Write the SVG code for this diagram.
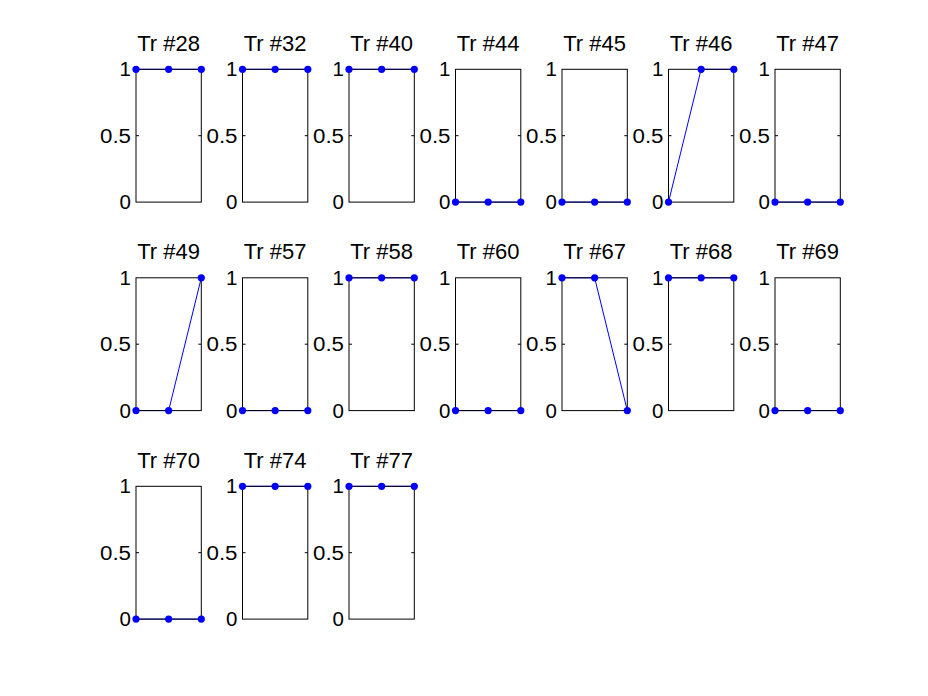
<svg xmlns="http://www.w3.org/2000/svg" xmlns:xlink="http://www.w3.org/1999/xlink" width="928" height="696" viewBox="0 0 928 696">
<style>
.bg{fill:#fff}
.box{fill:none;stroke:#000;stroke-width:1}
.tk{stroke:#000;stroke-width:1}
.ln{fill:none;stroke:#0000ff;stroke-width:1}
.dot{fill:#0000ff}
.yl{font-family:"Liberation Sans",Arial,sans-serif;font-size:20.5px;fill:#000;text-anchor:end}
.ti{font-family:"Liberation Sans",Arial,sans-serif;font-size:22px;fill:#000;text-anchor:middle}
</style>
<defs>
<g id="frame">
<rect class="box" x="0" y="0" width="65.3" height="132.8"/>
<line class="tk" x1="0" y1="66.4" x2="3" y2="66.4"/>
<line class="tk" x1="65.3" y1="66.4" x2="62.3" y2="66.4"/>
</g>
<g id="top3"><circle class="dot" cx="0" cy="0" r="3.6"/><circle class="dot" cx="32.65" cy="0" r="3.6"/><circle class="dot" cx="65.3" cy="0" r="3.6"/></g>
<g id="bot3"><circle class="dot" cx="0" cy="132.8" r="3.6"/><circle class="dot" cx="32.65" cy="132.8" r="3.6"/><circle class="dot" cx="65.3" cy="132.8" r="3.6"/></g>
</defs>
<rect class="bg" x="0" y="0" width="928" height="696"/>

<!-- Row 1 -->
<g id="tr28" transform="translate(136,69.3)">
<polyline class="ln" points="0,0 32.65,0 65.3,0"/>
<use xlink:href="#frame"/><use xlink:href="#top3"/>
<text class="ti" x="32.65" y="-18.6">Tr #28</text>
<text class="yl" x="-5" y="7">1</text><text class="yl" x="-5" y="73.5" textLength="31" lengthAdjust="spacingAndGlyphs">0.5</text><text class="yl" x="-5" y="140">0</text>
</g>
<g id="tr32" transform="translate(242.5,69.3)">
<polyline class="ln" points="0,0 32.65,0 65.3,0"/>
<use xlink:href="#frame"/><use xlink:href="#top3"/>
<text class="ti" x="32.65" y="-18.6">Tr #32</text>
<text class="yl" x="-5" y="7">1</text><text class="yl" x="-5" y="73.5" textLength="31" lengthAdjust="spacingAndGlyphs">0.5</text><text class="yl" x="-5" y="140">0</text>
</g>
<g id="tr40" transform="translate(349,69.3)">
<polyline class="ln" points="0,0 32.65,0 65.3,0"/>
<use xlink:href="#frame"/><use xlink:href="#top3"/>
<text class="ti" x="32.65" y="-18.6">Tr #40</text>
<text class="yl" x="-5" y="7">1</text><text class="yl" x="-5" y="73.5" textLength="31" lengthAdjust="spacingAndGlyphs">0.5</text><text class="yl" x="-5" y="140">0</text>
</g>
<g id="tr44" transform="translate(455.5,69.3)">
<polyline class="ln" points="0,132.8 32.65,132.8 65.3,132.8"/>
<use xlink:href="#frame"/><use xlink:href="#bot3"/>
<text class="ti" x="32.65" y="-18.6">Tr #44</text>
<text class="yl" x="-5" y="7">1</text><text class="yl" x="-5" y="73.5" textLength="31" lengthAdjust="spacingAndGlyphs">0.5</text><text class="yl" x="-5" y="140">0</text>
</g>
<g id="tr45" transform="translate(562,69.3)">
<polyline class="ln" points="0,132.8 32.65,132.8 65.3,132.8"/>
<use xlink:href="#frame"/><use xlink:href="#bot3"/>
<text class="ti" x="32.65" y="-18.6">Tr #45</text>
<text class="yl" x="-5" y="7">1</text><text class="yl" x="-5" y="73.5" textLength="31" lengthAdjust="spacingAndGlyphs">0.5</text><text class="yl" x="-5" y="140">0</text>
</g>
<g id="tr46" transform="translate(668.5,69.3)">
<polyline class="ln" points="0,132.8 32.65,0 65.3,0"/>
<use xlink:href="#frame"/>
<circle class="dot" cx="0" cy="132.8" r="3.6"/><circle class="dot" cx="32.65" cy="0" r="3.6"/><circle class="dot" cx="65.3" cy="0" r="3.6"/>
<text class="ti" x="32.65" y="-18.6">Tr #46</text>
<text class="yl" x="-5" y="7">1</text><text class="yl" x="-5" y="73.5" textLength="31" lengthAdjust="spacingAndGlyphs">0.5</text><text class="yl" x="-5" y="140">0</text>
</g>
<g id="tr47" transform="translate(775,69.3)">
<polyline class="ln" points="0,132.8 32.65,132.8 65.3,132.8"/>
<use xlink:href="#frame"/><use xlink:href="#bot3"/>
<text class="ti" x="32.65" y="-18.6">Tr #47</text>
<text class="yl" x="-5" y="7">1</text><text class="yl" x="-5" y="73.5" textLength="31" lengthAdjust="spacingAndGlyphs">0.5</text><text class="yl" x="-5" y="140">0</text>
</g>

<!-- Row 2 -->
<g id="tr49" transform="translate(136,277.8)">
<polyline class="ln" points="0,132.8 32.65,132.8 65.3,0"/>
<use xlink:href="#frame"/>
<circle class="dot" cx="0" cy="132.8" r="3.6"/><circle class="dot" cx="32.65" cy="132.8" r="3.6"/><circle class="dot" cx="65.3" cy="0" r="3.6"/>
<text class="ti" x="32.65" y="-18.6">Tr #49</text>
<text class="yl" x="-5" y="7">1</text><text class="yl" x="-5" y="73.5" textLength="31" lengthAdjust="spacingAndGlyphs">0.5</text><text class="yl" x="-5" y="140">0</text>
</g>
<g id="tr57" transform="translate(242.5,277.8)">
<polyline class="ln" points="0,132.8 32.65,132.8 65.3,132.8"/>
<use xlink:href="#frame"/><use xlink:href="#bot3"/>
<text class="ti" x="32.65" y="-18.6">Tr #57</text>
<text class="yl" x="-5" y="7">1</text><text class="yl" x="-5" y="73.5" textLength="31" lengthAdjust="spacingAndGlyphs">0.5</text><text class="yl" x="-5" y="140">0</text>
</g>
<g id="tr58" transform="translate(349,277.8)">
<polyline class="ln" points="0,0 32.65,0 65.3,0"/>
<use xlink:href="#frame"/><use xlink:href="#top3"/>
<text class="ti" x="32.65" y="-18.6">Tr #58</text>
<text class="yl" x="-5" y="7">1</text><text class="yl" x="-5" y="73.5" textLength="31" lengthAdjust="spacingAndGlyphs">0.5</text><text class="yl" x="-5" y="140">0</text>
</g>
<g id="tr60" transform="translate(455.5,277.8)">
<polyline class="ln" points="0,132.8 32.65,132.8 65.3,132.8"/>
<use xlink:href="#frame"/><use xlink:href="#bot3"/>
<text class="ti" x="32.65" y="-18.6">Tr #60</text>
<text class="yl" x="-5" y="7">1</text><text class="yl" x="-5" y="73.5" textLength="31" lengthAdjust="spacingAndGlyphs">0.5</text><text class="yl" x="-5" y="140">0</text>
</g>
<g id="tr67" transform="translate(562,277.8)">
<polyline class="ln" points="0,0 32.65,0 65.3,132.8"/>
<use xlink:href="#frame"/>
<circle class="dot" cx="0" cy="0" r="3.6"/><circle class="dot" cx="32.65" cy="0" r="3.6"/><circle class="dot" cx="65.3" cy="132.8" r="3.6"/>
<text class="ti" x="32.65" y="-18.6">Tr #67</text>
<text class="yl" x="-5" y="7">1</text><text class="yl" x="-5" y="73.5" textLength="31" lengthAdjust="spacingAndGlyphs">0.5</text><text class="yl" x="-5" y="140">0</text>
</g>
<g id="tr68" transform="translate(668.5,277.8)">
<polyline class="ln" points="0,0 32.65,0 65.3,0"/>
<use xlink:href="#frame"/><use xlink:href="#top3"/>
<text class="ti" x="32.65" y="-18.6">Tr #68</text>
<text class="yl" x="-5" y="7">1</text><text class="yl" x="-5" y="73.5" textLength="31" lengthAdjust="spacingAndGlyphs">0.5</text><text class="yl" x="-5" y="140">0</text>
</g>
<g id="tr69" transform="translate(775,277.8)">
<polyline class="ln" points="0,132.8 32.65,132.8 65.3,132.8"/>
<use xlink:href="#frame"/><use xlink:href="#bot3"/>
<text class="ti" x="32.65" y="-18.6">Tr #69</text>
<text class="yl" x="-5" y="7">1</text><text class="yl" x="-5" y="73.5" textLength="31" lengthAdjust="spacingAndGlyphs">0.5</text><text class="yl" x="-5" y="140">0</text>
</g>

<!-- Row 3 -->
<g id="tr70" transform="translate(136,486.3)">
<polyline class="ln" points="0,132.8 32.65,132.8 65.3,132.8"/>
<use xlink:href="#frame"/><use xlink:href="#bot3"/>
<text class="ti" x="32.65" y="-18.6">Tr #70</text>
<text class="yl" x="-5" y="7">1</text><text class="yl" x="-5" y="73.5" textLength="31" lengthAdjust="spacingAndGlyphs">0.5</text><text class="yl" x="-5" y="140">0</text>
</g>
<g id="tr74" transform="translate(242.5,486.3)">
<polyline class="ln" points="0,0 32.65,0 65.3,0"/>
<use xlink:href="#frame"/><use xlink:href="#top3"/>
<text class="ti" x="32.65" y="-18.6">Tr #74</text>
<text class="yl" x="-5" y="7">1</text><text class="yl" x="-5" y="73.5" textLength="31" lengthAdjust="spacingAndGlyphs">0.5</text><text class="yl" x="-5" y="140">0</text>
</g>
<g id="tr77" transform="translate(349,486.3)">
<polyline class="ln" points="0,0 32.65,0 65.3,0"/>
<use xlink:href="#frame"/><use xlink:href="#top3"/>
<text class="ti" x="32.65" y="-18.6">Tr #77</text>
<text class="yl" x="-5" y="7">1</text><text class="yl" x="-5" y="73.5" textLength="31" lengthAdjust="spacingAndGlyphs">0.5</text><text class="yl" x="-5" y="140">0</text>
</g>
</svg>
